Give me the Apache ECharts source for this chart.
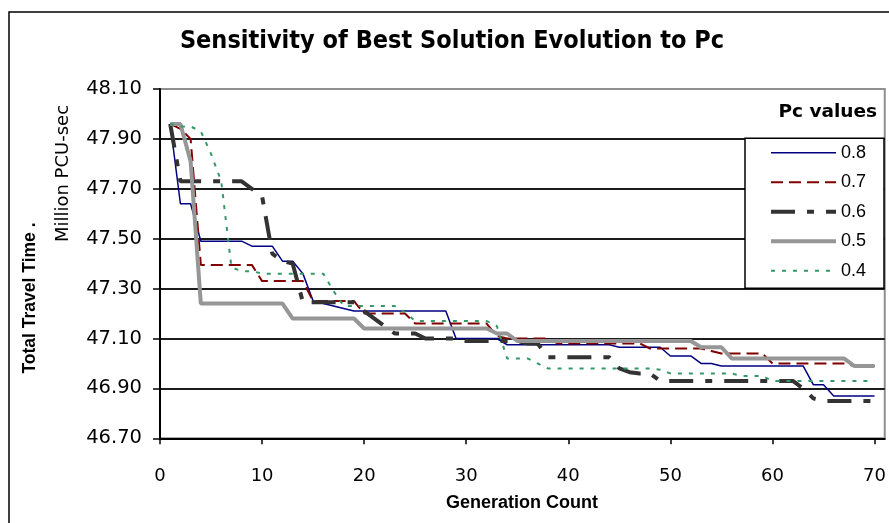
<!DOCTYPE html>
<html>
<head>
<meta charset="utf-8">
<script src="https://cdn.jsdelivr.net/npm/echarts@6/dist/echarts.min.js"></script>
<style>
html,body{margin:0;padding:0;background:#fff;}
#chart{width:889px;height:523px;}
</style>
</head>
<body>
<div id="chart"></div>
<script>
// ---- Data ----
const chartTitle = "Sensitivity of Best Solution Evolution to Pc";
const legendTitle = "Pc values";
const yNameBold = "Total Travel Time .";
const yNameUnit = "Million PCU-sec";
const xName = "Generation Count";
const seriesNames = ["0.8", "0.7", "0.6", "0.5", "0.4"];

const xTickLabels = [0, 10, 20, 30, 40, 50, 60, 70];
const yTickLabels = ["46.70", "46.90", "47.10", "47.30", "47.50", "47.70", "47.90", "48.10"];

const generations = [
  1, 2, 3, 4, 5, 6, 7, 8, 9, 10,
  11, 12, 13, 14, 15, 16, 17, 18, 19, 20,
  21, 22, 23, 24, 25, 26, 27, 28, 29, 30,
  31, 32, 33, 34, 35, 36, 37, 38, 39, 40,
  41, 42, 43, 44, 45, 46, 47, 48, 49, 50,
  51, 52, 53, 54, 55, 56, 57, 58, 59, 60,
  61, 62, 63, 64, 65, 66, 67, 68, 69, 70
];

const pc08 = [
  47.96, 47.64, 47.64, 47.49, 47.49, 47.49, 47.49, 47.49, 47.47, 47.47,
  47.47, 47.41, 47.41, 47.36, 47.25, 47.24, 47.23, 47.22, 47.21, 47.21,
  47.21, 47.21, 47.21, 47.21, 47.21, 47.21, 47.21, 47.21, 47.10, 47.10,
  47.10, 47.10, 47.10, 47.075, 47.075, 47.075, 47.075, 47.075, 47.075, 47.075,
  47.075, 47.075, 47.075, 47.075, 47.065, 47.065, 47.065, 47.065, 47.065, 47.03,
  47.03, 47.03, 47.00, 47.00, 46.99, 46.99, 46.99, 46.99, 46.99, 46.99,
  46.99, 46.99, 46.99, 46.915, 46.915, 46.87, 46.87, 46.87, 46.87, 46.87
];

const pc07 = [
  47.96, 47.94, 47.90, 47.395, 47.395, 47.395, 47.395, 47.395, 47.395, 47.33,
  47.33, 47.33, 47.33, 47.33, 47.25, 47.25, 47.25, 47.25, 47.25, 47.20,
  47.20, 47.20, 47.20, 47.20, 47.16, 47.16, 47.16, 47.16, 47.16, 47.16,
  47.16, 47.16, 47.11, 47.10, 47.10, 47.10, 47.10, 47.10, 47.08, 47.08,
  47.08, 47.08, 47.08, 47.08, 47.08, 47.08, 47.08, 47.06, 47.06, 47.06,
  47.06, 47.06, 47.06, 47.05, 47.04, 47.04, 47.04, 47.04, 47.04, 47.00,
  47.00, 47.00, 47.00, 47.00, 47.00, 47.00, 47.00, 46.99, 46.99, 46.99
];

const pc06 = [
  47.96, 47.73, 47.73, 47.73, 47.73, 47.73, 47.73, 47.73, 47.70, 47.67,
  47.44, 47.41, 47.40, 47.245, 47.245, 47.245, 47.245, 47.245, 47.245, 47.21,
  47.18, 47.15, 47.12, 47.12, 47.12, 47.10, 47.10, 47.10, 47.10, 47.09,
  47.09, 47.09, 47.09, 47.09, 47.09, 47.08, 47.08, 47.025, 47.025, 47.025,
  47.025, 47.025, 47.025, 47.025, 46.98, 46.965, 46.96, 46.96, 46.93, 46.93,
  46.93, 46.93, 46.93, 46.93, 46.93, 46.93, 46.93, 46.93, 46.93, 46.93,
  46.93, 46.93, 46.90, 46.86, 46.85, 46.85, 46.85, 46.85, 46.85, 46.85
];

const pc05 = [
  47.96, 47.96, 47.81, 47.24, 47.24, 47.24, 47.24, 47.24, 47.24, 47.24,
  47.24, 47.24, 47.18, 47.18, 47.18, 47.18, 47.18, 47.18, 47.18, 47.14,
  47.14, 47.14, 47.14, 47.14, 47.14, 47.14, 47.14, 47.14, 47.14, 47.14,
  47.14, 47.14, 47.12, 47.12, 47.09, 47.09, 47.09, 47.09, 47.09, 47.09,
  47.09, 47.09, 47.09, 47.09, 47.09, 47.09, 47.09, 47.09, 47.09, 47.09,
  47.09, 47.09, 47.065, 47.065, 47.065, 47.02, 47.02, 47.02, 47.02, 47.02,
  47.02, 47.02, 47.02, 47.02, 47.02, 47.02, 47.02, 46.99, 46.99, 46.99
];

const pc04 = [
  47.96, 47.95, 47.95, 47.93, 47.84, 47.73, 47.385, 47.37, 47.37, 47.36,
  47.36, 47.36, 47.36, 47.36, 47.36, 47.36, 47.29, 47.23, 47.23, 47.23,
  47.23, 47.23, 47.23, 47.205, 47.17, 47.17, 47.17, 47.17, 47.17, 47.17,
  47.17, 47.17, 47.15, 47.02, 47.02, 47.02, 47.00, 46.98, 46.98, 46.98,
  46.98, 46.98, 46.98, 46.98, 46.98, 46.98, 46.98, 46.98, 46.975, 46.96,
  46.96, 46.96, 46.96, 46.96, 46.96, 46.96, 46.95, 46.95, 46.95, 46.93,
  46.93, 46.93, 46.93, 46.93, 46.93, 46.93, 46.93, 46.93, 46.93, 46.93
];

// ---- Chart ----
const seriesValues = [pc08, pc07, pc06, pc05, pc04];
const seriesStyles = [
  { color: '#000080', width: 1.5, type: 'solid' },
  { color: '#800000', width: 2, type: [12, 6] },
  { color: '#333333', width: 4, type: [24, 12, 7, 12] },
  { color: '#969696', width: 4, type: 'solid' },
  { color: '#339966', width: 2, type: [4, 7] }
];

const chart = echarts.init(document.getElementById('chart'), null, { renderer: 'canvas' });

const series = seriesNames.map((name, i) => ({
  name: name,
  type: 'line',
  symbol: 'none',
  showSymbol: false,
  animation: false,
  data: generations.map((g, k) => [g, seriesValues[i][k]]),
  lineStyle: seriesStyles[i],
  itemStyle: { color: seriesStyles[i].color },
  emphasis: { disabled: true }
}));

const option = {
  animation: false,
  backgroundColor: '#ffffff',
  grid: {
    left: 160, right: 4, top: 89, bottom: 84.7,
    show: true, borderColor: '#8f8f8f', borderWidth: 2, backgroundColor: 'transparent'
  },
  xAxis: {
    type: 'value',
    min: 0, max: 71, interval: 10,
    axisLine: { show: true, onZero: false, lineStyle: { color: '#000', width: 2 } },
    axisTick: { show: true, inside: false, length: 6, lineStyle: { color: '#000', width: 1.5 }, customValues: xTickLabels },
    axisLabel: {
      customValues: xTickLabels,
      margin: 29,
      fontFamily: 'DejaVu Sans', fontSize: 18, color: '#000',
      formatter: v => (xTickLabels.indexOf(v) >= 0 ? String(v) : '')
    },
    splitLine: { show: false }
  },
  yAxis: {
    type: 'value',
    min: 46.7, max: 48.1, interval: 0.2,
    axisLine: { show: true, lineStyle: { color: '#000', width: 2 } },
    axisTick: { show: true, inside: false, length: 7, lineStyle: { color: '#000', width: 1.5 } },
    axisLabel: {
      margin: 18,
      fontFamily: 'DejaVu Sans', fontSize: 19.5, color: '#000',
      formatter: v => {
        const s = v.toFixed(2);
        return yTickLabels.indexOf(s) >= 0 ? s : '';
      }
    },
    splitLine: { show: true, showMaxLine: false, lineStyle: { color: '#1c1c1c', width: 2 } }
  },
  legend: {
    show: true,
    orient: 'vertical',
    left: 769, top: 143.8,
    padding: 0,
    itemWidth: 65, itemHeight: 18, itemGap: 11.5,
    selectedMode: false,
    z: 20,
    itemStyle: { color: 'rgba(0,0,0,0)', borderColor: 'rgba(0,0,0,0)', borderWidth: 0, opacity: 0 },
    lineStyle: { width: 'inherit', opacity: 1 },
    textStyle: { fontFamily: 'Liberation Sans', fontSize: 18, color: '#000', lineHeight: 18 },
    data: seriesNames
  },
  graphic: [
    { type: 'rect', z: 10, shape: { x: 9, y: 12, width: 1000, height: 1000 },
      style: { fill: 'none', stroke: '#000', lineWidth: 1.5 } },
    { type: 'rect', z: 10, shape: { x: 745, y: 138.3, width: 139, height: 150 },
      style: { fill: '#fff', stroke: '#000', lineWidth: 1.5 } },
    { type: 'text', z: 10, x: 877, y: 111.7,
      style: { text: legendTitle, font: 'bold 18.5px "DejaVu Sans"', fill: '#000', align: 'right', verticalAlign: 'middle' } },
    { type: 'text', z: 10, x: 452, y: 41, scaleX: 0.9,
      style: { text: chartTitle, font: 'bold 25px "DejaVu Sans"', fill: '#000', align: 'center', verticalAlign: 'middle' } },
    { type: 'text', z: 10, x: 30, y: 298, rotation: Math.PI / 2,
      style: { text: yNameBold, font: 'bold 17.5px "Liberation Sans"', fill: '#000', align: 'center', verticalAlign: 'middle' } },
    { type: 'text', z: 10, x: 63, y: 173.5, rotation: Math.PI / 2,
      style: { text: yNameUnit, font: '18px "DejaVu Sans"', fill: '#000', align: 'center', verticalAlign: 'middle' } },
    { type: 'text', z: 10, x: 522, y: 503,
      style: { text: xName, font: 'bold 18px "Liberation Sans"', fill: '#000', align: 'center', verticalAlign: 'middle' } }
  ],
  series: series
};

chart.setOption(option);
</script>
</body>
</html>
